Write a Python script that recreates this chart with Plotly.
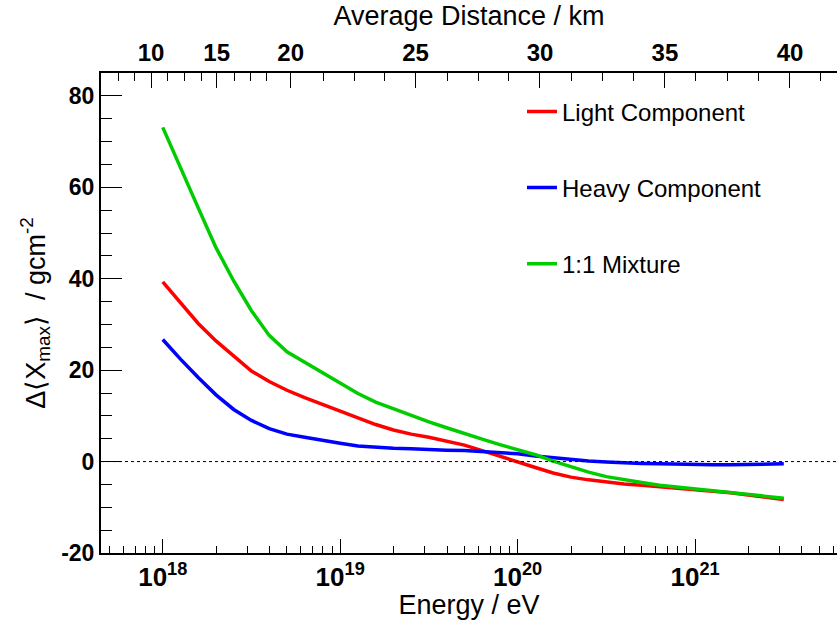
import math
import plotly.graph_objects as go

# ---- data ----
log_energy = [18.0, 18.1, 18.2, 18.3, 18.4, 18.5, 18.6, 18.7, 18.8, 18.9,
              19.0, 19.1, 19.2, 19.3, 19.4, 19.5, 19.6, 19.7, 19.8, 19.9,
              20.0, 20.1, 20.2, 20.3, 20.4, 20.5, 20.6, 20.7, 20.8, 20.9,
              21.0, 21.1, 21.2, 21.3, 21.4, 21.5]

light = [39.3, 34.7, 30.2, 26.4, 23.1, 19.8, 17.5, 15.6, 14.0, 12.5,
         11.0, 9.5, 8.1, 6.9, 6.0, 5.3, 4.4, 3.6, 2.4, 1.1,
         -0.1, -1.3, -2.5, -3.4, -4.0, -4.5, -4.9, -5.2, -5.5, -5.8,
         -6.1, -6.5, -6.8, -7.3, -7.8, -8.3]

heavy = [26.7, 22.4, 18.4, 14.6, 11.4, 9.0, 7.2, 6.0, 5.3, 4.6,
         4.0, 3.4, 3.1, 2.9, 2.8, 2.6, 2.5, 2.4, 2.2, 1.9,
         1.7, 1.2, 0.8, 0.45, 0.1, -0.1, -0.3, -0.4, -0.5, -0.6,
         -0.7, -0.7, -0.7, -0.6, -0.5, -0.5]

mixture = [73.1, 64.5, 55.5, 46.8, 39.5, 33.0, 27.6, 24.0, 21.7, 19.4,
           17.2, 14.9, 13.0, 11.5, 10.1, 8.7, 7.4, 6.1, 4.9, 3.7,
           2.6, 1.5, 0.1, -1.2, -2.3, -3.3, -4.0, -4.6, -5.2, -5.6,
           -5.9, -6.3, -6.8, -7.2, -7.6, -8.0]

series_names = ["Light Component", "Heavy Component", "1:1 Mixture"]
series_colors = ["#ff0000", "#0000ff", "#00cc00"]

# top axis: average distance (km) and where its ticks sit on the energy axis
distance_labels = ["10", "15", "20", "25", "30", "35", "40"]
distance_major_logE = [17.934, 18.304, 18.721, 19.425, 20.126, 20.830, 21.535]
distance_minor_logE = [17.748, 17.840, 18.028, 18.122, 18.216, 18.403, 18.497,
                       18.586, 18.905, 19.083, 19.252, 19.603, 19.778, 19.951,
                       20.304, 20.479, 20.655, 21.005, 21.181, 21.356, 21.709]

energy_decades = [18, 19, 20, 21]
y_tick_values = [-20, 0, 20, 40, 60, 80]
y_tick_labels = ["-20", "0", "20", "40", "60", "80"]
x_range_log = [17.652, 21.80]
y_range = [-20, 85]

# ---- figure ----
energy = [10.0 ** v for v in log_energy]
fig = go.Figure()
for name, vals, col in zip(series_names, [light, heavy, mixture], series_colors):
    fig.add_trace(go.Scatter(x=energy, y=vals, mode="lines", name=name,
                             legendgroup=name,
                             line=dict(color=col, width=3.5)))

# invisible trace to anchor the top axis
fig.add_trace(go.Scatter(x=energy, y=mixture, xaxis="x2", mode="lines",
                         line=dict(width=0, color="rgba(0,0,0,0)"),
                         showlegend=False, hoverinfo="skip"))

bold = dict(family="Liberation Sans, Arial, sans-serif", size=24,
            color="black", weight="bold")
plain = dict(family="Liberation Sans, Arial, sans-serif", size=27,
             color="black")

minor_vals = []
for d in range(17, 22):
    for m in range(2, 10):
        v = m * 10.0 ** d
        if x_range_log[0] <= math.log10(v) <= x_range_log[1]:
            minor_vals.append(v)

fig.update_layout(
    width=838, height=620,
    margin=dict(l=101, r=1, t=73, b=67),
    paper_bgcolor="white", plot_bgcolor="white",
    showlegend=True,
    legend=dict(x=0.572, y=0.966, xanchor="left", yanchor="top",
                bgcolor="rgba(0,0,0,0)", tracegroupgap=42,
                font=dict(family="Liberation Sans, Arial, sans-serif",
                          size=24, color="black")),
    xaxis=dict(type="log", range=x_range_log, showline=True, linewidth=2,
               linecolor="black", showgrid=False, zeroline=False,
               ticks="inside", ticklen=14, tickwidth=1, tickcolor="black",
               tickvals=[10.0 ** d for d in energy_decades],
               ticktext=["10<sup>%d</sup>" % d for d in energy_decades],
               tickfont=dict(bold, size=26),
               minor=dict(tickvals=minor_vals, ticks="inside", ticklen=7,
                          tickwidth=1, tickcolor="black", showgrid=False),
               title=dict(text="Energy / eV", font=plain, standoff=4)),
    xaxis2=dict(type="log", range=x_range_log, overlaying="x", side="top",
                anchor="y",
                showline=True, linewidth=2, linecolor="black",
                showgrid=False, zeroline=False,
                ticks="inside", ticklen=15, tickwidth=1, tickcolor="black",
                tickvals=[10.0 ** v for v in distance_major_logE],
                ticktext=distance_labels, tickfont=bold,
                minor=dict(tickvals=[10.0 ** v for v in distance_minor_logE],
                           ticks="inside", ticklen=8, tickwidth=1,
                           tickcolor="black", showgrid=False),
                title=dict(text="Average Distance / km", font=plain,
                           standoff=6)),
    yaxis=dict(range=y_range, showline=True, linewidth=2, linecolor="black",
               showgrid=False, zeroline=False,
               ticks="inside", ticklen=21, tickwidth=1, tickcolor="black",
               tickvals=y_tick_values, ticktext=y_tick_labels,
               tickfont=dict(bold, size=23),
               minor=dict(dtick=5, ticks="inside", ticklen=11, tickwidth=1,
                          tickcolor="black", showgrid=False),
               title=dict(text="Δ⟨X<sub>max</sub>⟩  / gcm<sup>-2</sup>",
                          font=plain, standoff=8)),
)

fig.add_hline(y=0, line=dict(color="black", width=1, dash="dot"))

fig.write_html("out.html")
